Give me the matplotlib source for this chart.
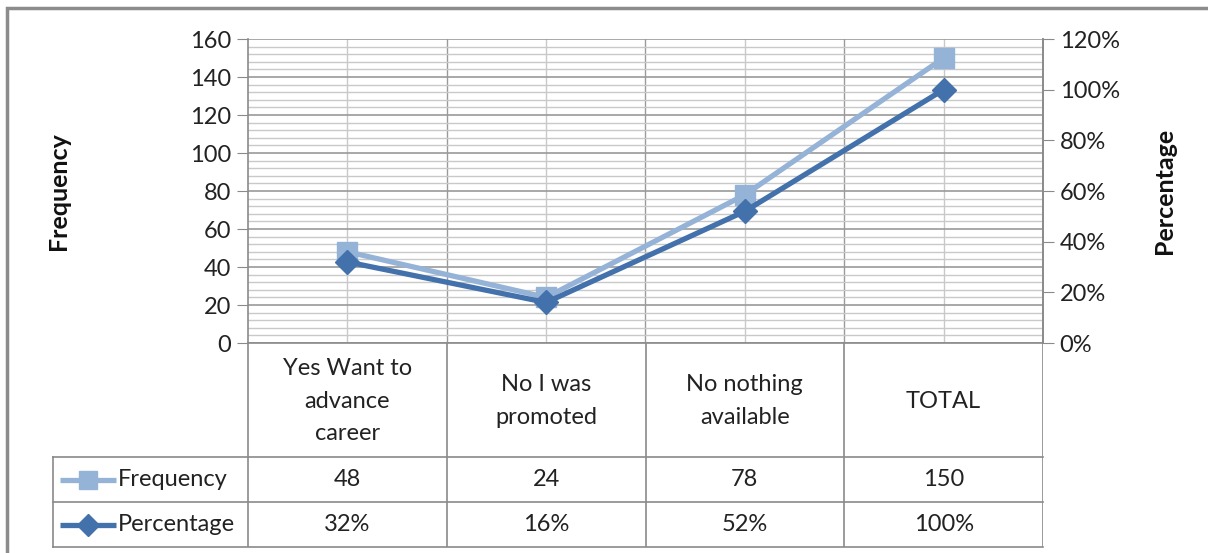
import matplotlib.pyplot as plt
from matplotlib.patches import Rectangle
from matplotlib.ticker import MultipleLocator, FuncFormatter

plt.rcParams['font.family'] = ['Lato', 'DejaVu Sans']

categories = ["Yes Want to\nadvance\ncareer", "No I was\npromoted",
              "No nothing\navailable", "TOTAL"]
frequency = [48, 24, 78, 150]
percentage = [0.32, 0.16, 0.52, 1.00]

freq_color = "#95b3d7"
pct_color = "#4371ab"
grid_major = "#9a9a9a"
grid_minor = "#c9c9c9"
frame_color = "#8a8a8a"
text_color = "#222222"

W, H = 1208, 553
fig = plt.figure(figsize=(W / 100, H / 100), dpi=100)


def box(left, top, right, bottom):
    return [left / W, (H - bottom) / H, (right - left) / W, (bottom - top) / H]


# outer chart frame (cut off on the right and bottom like the source image)
fig.patches.append(Rectangle((7 / W, -0.1), 1.2, (H - 8) / H + 0.1, transform=fig.transFigure,
                             fill=False, edgecolor="#8c8c8c", linewidth=2.5))

ax = fig.add_axes(box(248, 39, 1043, 343))
x = list(range(len(categories)))
ax.set_xlim(-0.5, len(categories) - 0.5)
ax.set_ylim(0, 160)
ax.yaxis.set_major_locator(MultipleLocator(20))
ax.yaxis.set_minor_locator(MultipleLocator(4))
ax.grid(axis="y", which="minor", color=grid_minor, linewidth=1.0)
ax.grid(axis="y", which="major", color=grid_major, linewidth=1.2)
for i in x:
    ax.axvline(i, color=grid_minor, linewidth=1.0, zorder=0.5)
    ax.axvline(i + 0.5, color=grid_major, linewidth=1.0, zorder=0.5)
ax.set_axisbelow(True)
ax.set_xticks([])
ax.tick_params(axis="y", which="major", direction="out", length=8, color=frame_color,
               labelsize=17, labelcolor=text_color, pad=4)
ax.tick_params(axis="y", which="minor", length=0)
for side in ["left", "right", "bottom"]:
    ax.spines[side].set_color(frame_color)
    ax.spines[side].set_linewidth(1.2)
ax.spines["top"].set_visible(False)

ax.plot(x, frequency, color=freq_color, linewidth=3.8, marker="s", markersize=14,
        zorder=3, clip_on=False)

ax2 = ax.twinx()
ax2.set_ylim(0, 1.2)
ax2.yaxis.set_major_locator(MultipleLocator(0.2))
ax2.yaxis.set_major_formatter(FuncFormatter(lambda v, p: f"{v * 100:.0f}%"))
ax2.tick_params(axis="y", direction="out", length=8, color=frame_color,
                labelsize=17, labelcolor=text_color, pad=4)
for side in ["left", "top", "bottom"]:
    ax2.spines[side].set_visible(False)
ax2.spines["right"].set_color(frame_color)
ax2.spines["right"].set_linewidth(1.2)
ax2.plot(x, percentage, color=pct_color, linewidth=3.8, marker="D", markersize=12,
         zorder=4, clip_on=False)

fig.text(58 / W, 1 - 191 / H, "Frequency", rotation=90, ha="center", va="center",
         fontsize=18, fontweight="bold", color="#111111")
fig.text(1165 / W, 1 - 191 / H, "Percentage", rotation=90, ha="center", va="center",
         fontsize=18, fontweight="bold", color="#111111")

# data table below the plot
tab = fig.add_axes(box(53, 343, 1043, 547))
unit = 795 / len(categories)
tab_left = -0.5 - (248 - 53) / unit
tab.set_xlim(tab_left, len(categories) - 0.5)
tab.set_ylim(547, 343)
tab.axis("off")
row_top, row_mid, row_bot = 457, 502, 547
for i in x:
    tab.plot([i - 0.5, i - 0.5], [343, row_bot], color=frame_color, linewidth=1.2)
tab.plot([len(x) - 0.5] * 2, [343, row_bot], color=frame_color, linewidth=1.2)
tab.plot([tab_left, tab_left], [row_top, row_bot], color=frame_color, linewidth=1.2, clip_on=False)
for yy in [row_top, row_mid, row_bot]:
    tab.plot([tab_left, len(x) - 0.5], [yy, yy], color=frame_color, linewidth=1.2, clip_on=False)

for i, label in enumerate(categories):
    tab.text(i, (343 + row_top) / 2 + 1, label, ha="center", va="center", fontsize=17,
             color=text_color, linespacing=1.65)
    tab.text(i, (row_top + row_mid) / 2, f"{frequency[i]}", ha="center", va="center",
             fontsize=17, color=text_color)
    tab.text(i, (row_mid + row_bot) / 2, f"{percentage[i] * 100:.0f}%", ha="center",
             va="center", fontsize=17, color=text_color)

key_x0 = tab_left + 7 / unit
key_x1 = tab_left + 63 / unit
key_mid = (key_x0 + key_x1) / 2
for yc, col, mk, ms, name in [((row_top + row_mid) / 2, freq_color, "s", 13, "Frequency"),
                              ((row_mid + row_bot) / 2, pct_color, "D", 11, "Percentage")]:
    tab.plot([key_x0, key_x1], [yc, yc], color=col, linewidth=3.8, solid_capstyle="butt")
    tab.plot([key_mid], [yc], color=col, marker=mk, markersize=ms, linestyle="none")
    tab.text(key_x1 + 2 / unit, yc, name, ha="left", va="center", fontsize=17, color=text_color)

fig.savefig("out.png", dpi=100)
